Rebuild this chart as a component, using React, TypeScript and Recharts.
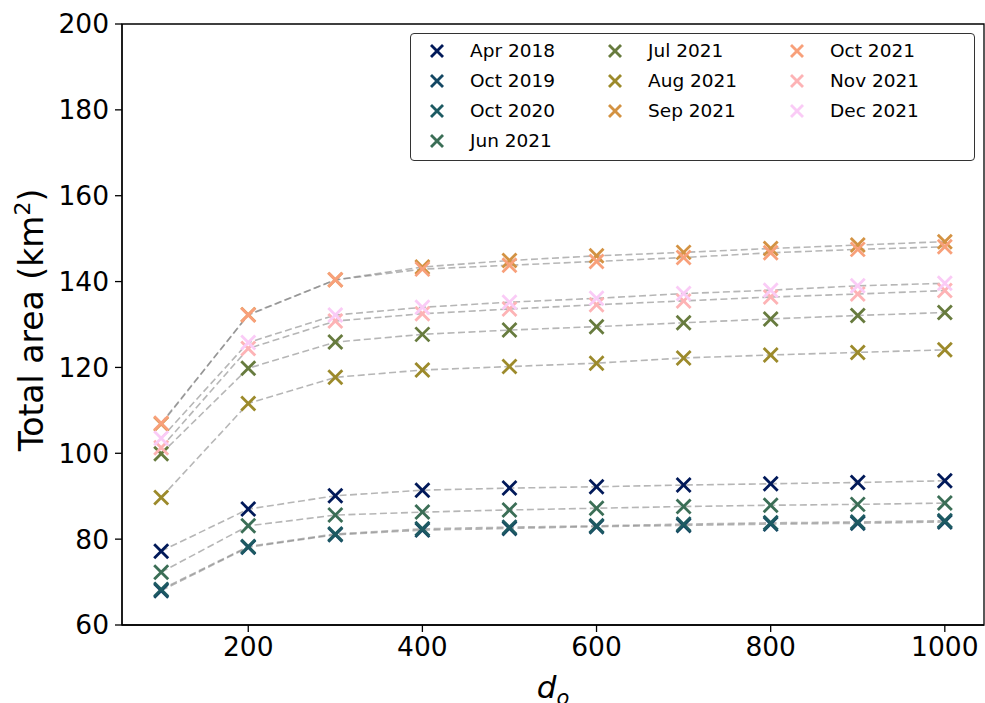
import {
  ComposedChart,
  Line,
  Scatter,
  XAxis,
  YAxis,
  ReferenceArea,
} from "recharts";

// Total area vs d_o for ten acquisition dates — grey dashed lines with
// coloured "x" markers (batlow-like palette), boxed legend top right.

const dO = [100, 200, 300, 400, 500, 600, 700, 800, 900, 1000];

const apr2018 = [77.2, 87.0, 90.1, 91.4, 91.9, 92.2, 92.6, 92.9, 93.2, 93.6];
const oct2019 = [68.0, 78.1, 81.0, 82.1, 82.5, 82.9, 83.2, 83.5, 83.7, 84.0];
const oct2020 = [68.3, 78.3, 81.2, 82.4, 82.8, 83.1, 83.5, 83.8, 84.0, 84.3];
const jun2021 = [72.3, 83.1, 85.6, 86.3, 86.8, 87.2, 87.6, 87.9, 88.1, 88.4];
const jul2021 = [99.9, 119.8, 125.9, 127.7, 128.7, 129.5, 130.4, 131.3, 132.1, 132.8];
const aug2021 = [89.7, 111.6, 117.7, 119.4, 120.2, 121.0, 122.2, 122.9, 123.5, 124.1];
const sep2021 = [106.8, 132.3, 140.4, 143.4, 144.9, 146.0, 146.8, 147.7, 148.5, 149.3];
const oct2021 = [107.0, 132.2, 140.4, 142.9, 143.8, 144.7, 145.6, 146.7, 147.5, 148.1];
const nov2021 = [101.3, 124.4, 130.8, 132.5, 133.6, 134.6, 135.5, 136.4, 137.1, 137.9];
const dec2021 = [103.5, 125.8, 132.2, 134.0, 135.2, 136.1, 137.2, 138.0, 139.0, 139.6];

const labels = [
  "Apr 2018", "Oct 2019", "Oct 2020", "Jun 2021", "Jul 2021",
  "Aug 2021", "Sep 2021", "Oct 2021", "Nov 2021", "Dec 2021",
];
const values = [
  apr2018, oct2019, oct2020, jun2021, jul2021,
  aug2021, sep2021, oct2021, nov2021, dec2021,
];
const colors = [
  "#011959", "#134763", "#1d5a62", "#3b6e56", "#677b3e",
  "#9c8a2b", "#d39242", "#f8a07a", "#fdb3b5", "#facbf6",
];

const yTicks = [60, 80, 100, 120, 140, 160, 180, 200];
const xTicks = [200, 400, 600, 800, 1000];
const xDomain = [55, 1045];
const yDomain = [60, 200];

const FONT = "'DejaVu Sans', sans-serif";

const series = labels.map((name, i) => ({
  name,
  color: colors[i],
  data: dO.map((x, j) => ({ x, y: values[i][j] })),
}));

function Cross({ cx, cy, color, r = 7 }: { cx: number; cy: number; color: string; r?: number }) {
  return (
    <g stroke={color} strokeWidth={2.8}>
      <line x1={cx - r} y1={cy - r} x2={cx + r} y2={cy + r} />
      <line x1={cx - r} y1={cy + r} x2={cx + r} y2={cy - r} />
    </g>
  );
}

// legend: 3 columns, filled column by column (4, 3, 3)
const legendCols = [[0, 1, 2, 3], [4, 5, 6], [7, 8, 9]];
const colMarkerX = [26, 204, 386];
const colTextX = [59, 237, 419];

function LegendBox() {
  return (
    <div
      style={{
        position: "absolute",
        left: 410,
        top: 33,
        width: 563,
        height: 126,
        border: "1.6px solid #333",
        borderRadius: 4,
        background: "#fff",
        fontFamily: FONT,
        fontSize: 18.5,
        color: "#000",
      }}
    >
      {legendCols.map((col, c) =>
        col.map((idx, r) => (
          <div key={idx}>
            <svg
              width={20}
              height={20}
              style={{ position: "absolute", left: colMarkerX[c] - 10, top: 17 + r * 30 - 10 }}
            >
              <Cross cx={10} cy={10} color={colors[idx]} r={6} />
            </svg>
            <span
              style={{
                position: "absolute",
                left: colTextX[c],
                top: 17 + r * 30 - 12,
                lineHeight: "24px",
                whiteSpace: "nowrap",
              }}
            >
              {labels[idx]}
            </span>
          </div>
        ))
      )}
    </div>
  );
}

export default function App() {
  return (
    <div style={{ position: "absolute", left: 0, top: 0, width: 985, height: 703, background: "#fff" }}>
      <ComposedChart
        width={985}
        height={703}
        margin={{ top: 24, right: 1, bottom: 0, left: 0 }}
      >
        <XAxis
          dataKey="x"
          type="number"
          domain={xDomain}
          ticks={xTicks}
          allowDataOverflow
          height={78}
          tickSize={7}
          tickMargin={5}
          stroke="#000"
          strokeWidth={1.3}
          tick={{ fill: "#000", fontSize: 26.5, fontFamily: FONT }}
          label={{
            content: () => (
              <text
                x={553}
                y={698}
                textAnchor="middle"
                fontFamily={FONT}
                fontStyle="italic"
                fontSize={31}
                fill="#000"
              >
                d
                <tspan fontSize={21} dy={7}>o</tspan>
              </text>
            ),
          }}
        />
        <YAxis
          type="number"
          domain={yDomain}
          ticks={yTicks}
          allowDataOverflow
          width={122}
          tickSize={7}
          tickMargin={6}
          stroke="#000"
          strokeWidth={1.3}
          tick={{ fill: "#000", fontSize: 26.5, fontFamily: FONT }}
          label={{
            content: () => (
              <text
                transform="translate(43 320) rotate(-90)"
                textAnchor="middle"
                fontFamily={FONT}
                fontSize={33}
                fill="#000"
              >
                Total area (km
                <tspan fontSize={22} dy={-13}>2</tspan>
                <tspan dy={13}>)</tspan>
              </text>
            ),
          }}
        />
        {/* top and right spines */}
        <ReferenceArea
          x1={xDomain[0]}
          x2={xDomain[1]}
          y1={yDomain[0]}
          y2={yDomain[1]}
          fill="none"
          stroke="#000"
          strokeWidth={1.3}
          ifOverflow="visible"
        />
        {series.map((s) => (
          <Line
            key={"line-" + s.name}
            data={s.data}
            dataKey="y"
            type="linear"
            stroke="#7a7a7a"
            strokeOpacity={0.55}
            strokeWidth={1.6}
            strokeDasharray="7 3.5"
            dot={false}
            activeDot={false}
            legendType="none"
            isAnimationActive={false}
          />
        ))}
        {series.map((s) => (
          <Scatter
            key={"pts-" + s.name}
            name={s.name}
            data={s.data}
            dataKey="y"
            fill={s.color}
            isAnimationActive={false}
            shape={(p: any) => <Cross cx={p.cx} cy={p.cy} color={s.color} />}
          />
        ))}
      </ComposedChart>
      <LegendBox />
    </div>
  );
}
